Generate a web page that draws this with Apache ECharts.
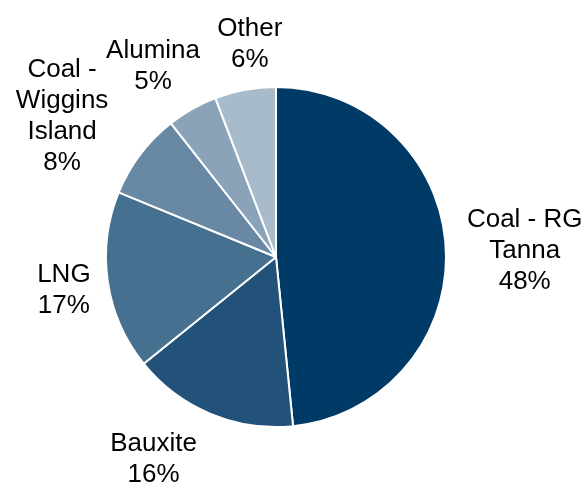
<!DOCTYPE html>
<html><head><meta charset="utf-8">
<script src="https://cdn.jsdelivr.net/npm/echarts@6/dist/echarts.min.js"></script>
<style>html,body{margin:0;padding:0;background:#fff}#c{width:584px;height:483px}</style>
</head><body><div id="c"></div>
<script>
const categories = ['Coal - RG\nTanna', 'Bauxite', 'LNG', 'Coal -\nWiggins\nIsland', 'Alumina', 'Other'];
const values = [48.4, 15.8, 17.0, 8.2, 4.8, 5.8];
const colors = ['#003a66', '#22527a', '#46708f', '#6888a3', '#8aa3b8', '#a8bbcb'];
// label nudges (style only)
const labelShift = [[21, 5.7], [-34.5, -8], [13.5, 0.8], [-32, -3.6], [-10.6, 8], [15.1, 11.8]];

const chart = echarts.init(document.getElementById('c'), null, {renderer: 'canvas'});
const data = categories.map((c, i) => ({name: c, value: values[i], itemStyle: {color: colors[i]}}));
const labelData = categories.map((c, i) => ({name: c, value: values[i]}));
chart.setOption({
  animation: false,
  series: [
    {
      type: 'pie',
      center: [276, 257],
      radius: [0, 170],
      startAngle: 90,
      clockwise: true,
      data: data,
      label: {show: false},
      labelLine: {show: false},
      itemStyle: {borderColor: '#ffffff', borderWidth: 2},
      emphasis: {disabled: true},
      silent: true
    },
    {
      type: 'pie',
      center: [276, 257],
      radius: [200, 250],
      startAngle: 90,
      clockwise: true,
      avoidLabelOverlap: false,
      data: labelData,
      itemStyle: {color: 'rgba(0,0,0,0)'},
      label: {
        show: true,
        position: 'inside',
        formatter: p => p.name + '\n' + Math.round(p.value) + '%',
        fontFamily: 'Liberation Sans, Arial, sans-serif',
        fontSize: 26,
        lineHeight: 31,
        color: '#000',
        align: 'center'
      },
      labelLayout: p => ({dx: labelShift[p.dataIndex][0], dy: labelShift[p.dataIndex][1], hideOverlap: false}),
      labelLine: {show: false},
      emphasis: {disabled: true},
      silent: true
    }
  ]
});
</script></body></html>
